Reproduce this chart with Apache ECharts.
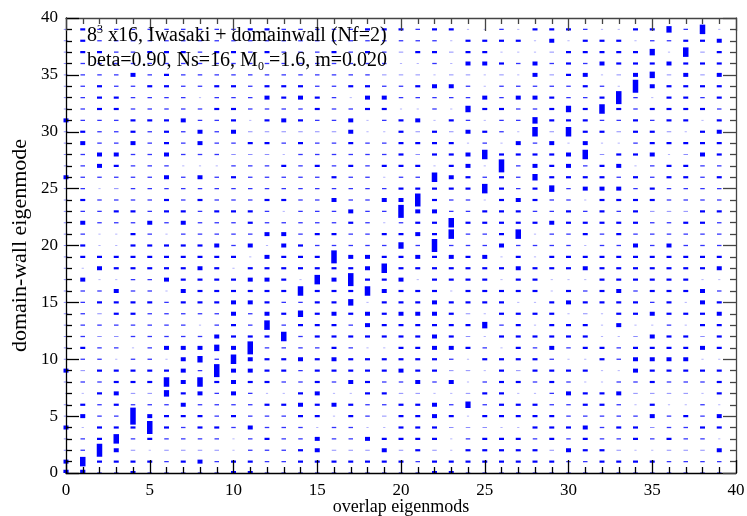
<!DOCTYPE html>
<html>
<head>
<meta charset="utf-8">
<script src="https://cdn.jsdelivr.net/npm/echarts@6/dist/echarts.min.js"></script>
<style>
html,body{margin:0;padding:0;background:#fff;}
#chart{width:747px;height:516px;}
</style>
</head>
<body>
<div id="chart"></div>
<script>
// Overlap magnitude level (0-9) for each (overlap eigenmode i, domain-wall eigenmode j).
// overlapLevels[j] is the row for domain-wall eigenmode j; character i is overlap eigenmode i.
const overlapLevels = [
  "6633533333" + "5533333333" + "3355333333" + "3333333333", // 0
  "5744443453" + "4433444444" + "4344444444" + "3344443333", // 1
  "2385212222" + "1333452225" + "2421444442" + "5442112225", // 2
  "2347343333" + "1343353354" + "4441344434" + "3433434331", // 3
  "5144484344" + "3533313311" + "4442221144" + "4534423344", // 4
  "2533954443" + "4333441432" + "4454144444" + "3333353435", // 5
  "2434333533" + "3344545433" + "4453634443" + "3443141131", // 6
  "1145226453" + "5311451144" + "2211244113" + "5445222214", // 7
  "2334447574" + "5443343543" + "3535134434" + "3113343334", // 8
  "5244444538" + "5544344444" + "5442214244" + "4411544444", // 9
  "2331331563" + "7544545444" + "4443144443" + "1143555511", // 10
  "2433135556" + "5833334311" + "4455431435" + "3443444454", // 11
  "2322333335" + "4447344444" + "4454214444" + "4411254424", // 12
  "2333333313" + "4373444354" + "4444463414" + "4415113144", // 13
  "2324433333" + "5354645454" + "5554214444" + "1214454445", // 14
  "2344443444" + "5543344614" + "4454444114" + "5444434154", // 15
  "2335331544" + "4444744475" + "4441444441" + "4345344453", // 16
  "2511335444" + "4554175844" + "5144441441" + "1144444411", // 17
  "2154444454" + "1444444457" + "4444444544" + "4544444445", // 18
  "2444444444" + "4154448554" + "4545451414" + "4444444444", // 19
  "2411444445" + "3515433333" + "6383335333" + "3133535333", // 20
  "2311431333" + "3355344334" + "4547334713" + "3434333333", // 21
  "2533353533" + "3433333431" + "3447444445" + "4444433443", // 22
  "2334434434" + "4431333533" + "8553344433" + "4343422244", // 23
  "2433334343" + "3344335335" + "5843314543" + "3144443333", // 24
  "2312333333" + "3333333333" + "4444474346" + "3555343333", // 25
  "5333335353" + "4333334331" + "3375434364" + "4443434434", // 26
  "2354333111" + "3334343434" + "4414518354" + "5345134433", // 27
  "2355335333" + "2221333333" + "4244574444" + "5724451254", // 28
  "2533534353" + "3443433433" + "4444131535" + "1511344444", // 29
  "2433434353" + "5222222511" + "4242543172" + "7442442145", // 30
  "5333444533" + "4145433513" + "4514313364" + "4433434414", // 31
  "2344333334" + "4333343344" + "1131644334" + "6474344443", // 32
  "2344333313" + "3354543155" + "3333353554" + "3348314434", // 33
  "2343344334" + "4344433443" + "3455313333" + "3431854444", // 34
  "2333534333" + "3333333332" + "2212212152" + "4512562525", // 35
  "2333333333" + "3333333333" + "1131554353" + "4354445444", // 36
  "2443344434" + "4343334343" + "2442441112" + "4444461724", // 37
  "2433333333" + "3333333333" + "3331444415" + "1444133445", // 38
  "2433333333" + "3443333344" + "4344113144" + "4311446371"  // 39
];
const xTickValues = [0, 5, 10, 15, 20, 25, 30, 35, 40];
const yTickValues = [0, 5, 10, 15, 20, 25, 30, 35, 40];
const xTitle = 'overlap eigenmods';
const yTitle = 'domain-wall eigenmode';

// drawing style per level: width, height (px), opacity
const LEVEL_STYLE = [
  null,
  {w: 2.2, h: 1.0, o: 0.3},
  {w: 4.5, h: 1.0, o: 0.45},
  {w: 4.5, h: 1.3, o: 0.8},
  {w: 5.0, h: 2.2, o: 1},
  {w: 5.0, h: 4.0, o: 1},
  {w: 5.2, h: 6.5, o: 1},
  {w: 5.5, h: 9.5, o: 1},
  {w: 5.5, h: 13, o: 1},
  {w: 5.5, h: 17, o: 1}
];

const cells = [];
overlapLevels.forEach((row, j) => {
  for (let i = 0; i < row.length; i++) {
    const lv = +row[i];
    if (lv > 0) cells.push([i, j, lv]);
  }
});

const FONT = '"Liberation Serif", "DejaVu Serif", serif';

function axisCommon(showLabel, lineColor) {
  return {
    type: 'value', min: 0, max: 40, interval: 5, z: 5,
    axisLine: {show: true, onZero: false, lineStyle: {color: lineColor, width: 1.3}},
    axisTick: {show: true, inside: true, length: 13, lineStyle: {color: lineColor, width: 1.3}},
    minorTick: {show: true, splitNumber: 5, length: 6, lineStyle: {color: lineColor, width: 1.3}},
    splitLine: {show: false},
    minorSplitLine: {show: false},
    axisLabel: {show: showLabel, color: '#000', fontFamily: FONT, fontSize: 17}
  };
}

const chart = echarts.init(document.getElementById('chart'), null, {renderer: 'canvas'});
const xBottom = Object.assign(axisCommon(true, '#000'), {
  position: 'bottom', name: xTitle, nameLocation: 'middle', nameGap: 25, nameMoveOverlap: false,
  nameTextStyle: {color: '#000', fontFamily: FONT, fontSize: 18}
});
xBottom.axisLabel.margin = 9;
const xTop = Object.assign(axisCommon(false, '#444'), {position: 'top'});
const yLeft = Object.assign(axisCommon(true, '#000'), {
  position: 'left', name: yTitle, nameLocation: 'middle', nameGap: 35, nameMoveOverlap: false,
  nameTextStyle: {color: '#000', fontFamily: FONT, fontSize: 22}
});
yLeft.axisLabel.margin = 8;
const yRight = Object.assign(axisCommon(false, '#444'), {position: 'right'});

chart.setOption({
  animation: false,
  backgroundColor: '#fff',
  grid: {left: 66, right: 11, top: 18, bottom: 43, containLabel: false, outerBoundsMode: 'none'},
  xAxis: [xBottom, xTop],
  yAxis: [yLeft, yRight],
  series: [{
    type: 'custom',
    xAxisIndex: 0, yAxisIndex: 0,
    data: cells,
    z: 2,
    renderItem: function (params, api) {
      const i = api.value(0), j = api.value(1), lv = api.value(2);
      const s = LEVEL_STYLE[lv];
      const c = api.coord([i, j]);
      const cs = params.coordSys;
      let y0 = c[1] - s.h / 2, y1 = c[1] + s.h / 2;
      y0 = Math.max(y0, cs.y);
      y1 = Math.min(y1, cs.y + cs.height);
      if (y1 <= y0) return null;
      return {
        type: 'rect',
        shape: {x: c[0] - s.w / 2, y: y0, width: s.w, height: y1 - y0},
        style: {fill: '#0000ff', opacity: s.o}
      };
    }
  }],
  graphic: [
    {
      type: 'text', left: 87, top: 24, z: 100,
      style: {
        text: '8{sup|3} x16, Iwasaki + domainwall (Nf=2)',
        font: '20px ' + FONT, fill: '#000', lineHeight: 24,
        rich: {sup: {fontSize: 12, fontFamily: FONT, verticalAlign: 'top', lineHeight: 24}}
      }
    },
    {
      type: 'text', left: 87, top: 49, z: 100,
      style: {
        text: 'beta=0.90, Ns=16, M{sub|0} =1.6, m=0.020',
        font: '20px ' + FONT, fill: '#000', lineHeight: 24,
        rich: {sub: {fontSize: 12, fontFamily: FONT, verticalAlign: 'bottom', lineHeight: 24}}
      }
    }
  ]
});
</script>
</body>
</html>
